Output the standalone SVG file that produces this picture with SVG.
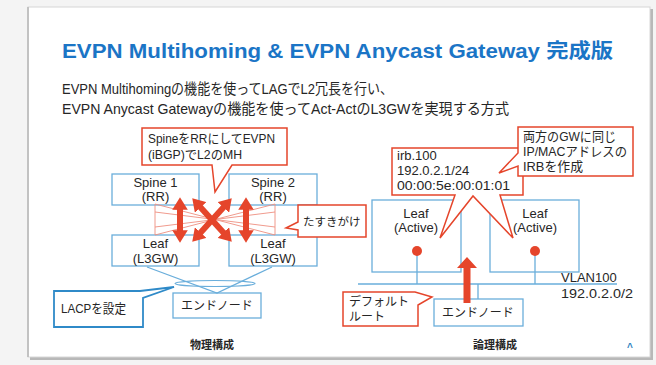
<svg xmlns="http://www.w3.org/2000/svg" width="656" height="365" viewBox="0 0 656 365">
<defs>
<style>
.t{font-family:"Liberation Sans","Noto Sans CJK JP",sans-serif;fill:#262626}
.s13{font-size:13px}
.s12{font-size:12px}
.mid{text-anchor:middle}
.box{fill:#fff;stroke:#6aaedb;stroke-width:1.3}
.call{fill:#fff;stroke:#e5452b;stroke-width:1.5}
.thin{stroke:#ee8f80;stroke-width:0.9;fill:none}
.ln{stroke:#6aaedb;stroke-width:1.3;fill:none}
.fat{stroke:#e5452b;stroke-width:6;fill:none}
.cap{font-size:11px;font-weight:bold;text-anchor:middle}
</style>
<marker id="ah" viewBox="0 0 8 10" refX="3" refY="5" markerWidth="2.1" markerHeight="2.6" orient="auto-start-reverse" markerUnits="strokeWidth"><path d="M0,0 L8,5 L0,10 Z" fill="#e5452b"/></marker>
<clipPath id="clipR"><rect x="0" y="0" width="633" height="365"/></clipPath>
</defs>

<rect width="656" height="365" fill="#f4f4f4"/>
<rect x="30" y="9" width="623" height="351" fill="#b8b8b8"/>
<rect x="28" y="7" width="622" height="350" fill="#fff" stroke="#d6d6d6" stroke-width="1"/>
<line x1="28" y1="7" x2="28" y2="357" stroke="#c2c2c2" stroke-width="2"/>

<g id="title">
<text class="t" x="62" y="58" font-size="20" font-weight="bold" style="fill:#1b75c6" textLength="551" lengthAdjust="spacingAndGlyphs">EVPN Multihoming &amp; EVPN Anycast Gateway 完成版</text>
<text class="t" x="62" y="94" font-size="14.5" textLength="331" lengthAdjust="spacingAndGlyphs">EVPN Multihomingの機能を使ってLAGでL2冗長を行い、</text>
<text class="t" x="62" y="114" font-size="14.5" textLength="447" lengthAdjust="spacingAndGlyphs">EVPN Anycast Gatewayの機能を使ってAct-ActのL3GWを実現する方式</text>
</g>

<!-- physical -->
<g id="spine1"><rect class="box" x="112" y="174" width="87" height="31"/>
<text class="t s13 mid" x="155.5" y="187">Spine 1</text><text class="t s13 mid" x="155.5" y="201">(RR)</text></g>
<g id="spine2"><rect class="box" x="229" y="174" width="88" height="31"/>
<text class="t s13 mid" x="273" y="187">Spine 2</text><text class="t s13 mid" x="273" y="201">(RR)</text></g>
<g id="leaf1"><rect class="box" x="112" y="235" width="87" height="31"/>
<text class="t s13 mid" x="155.5" y="248">Leaf</text><text class="t s13 mid" x="155.5" y="263">(L3GW)</text></g>
<g id="leaf2"><rect class="box" x="229" y="235" width="88" height="31"/>
<text class="t s13 mid" x="273" y="248">Leaf</text><text class="t s13 mid" x="273" y="263">(L3GW)</text></g>
<g id="endnode1"><rect class="box" x="173" y="293" width="88" height="25"/>
<text class="t s12 mid" x="217" y="310">エンドノード</text></g>

<g id="connectors-physical">
<path class="thin" d="M155,204 V235 M275,204 V235 M155,204 L275,235 M155,235 L275,204 M155,212 L275,227 M155,227 L275,212"/>
<line class="fat" x1="180" y1="205" x2="180" y2="235" marker-start="url(#ah)" marker-end="url(#ah)"/>
<line class="fat" x1="246" y1="205" x2="246" y2="235" marker-start="url(#ah)" marker-end="url(#ah)"/>
<line class="fat" x1="197.5" y1="204" x2="226.5" y2="236" marker-start="url(#ah)" marker-end="url(#ah)"/>
<line class="fat" x1="226.5" y1="204" x2="197.5" y2="236" marker-start="url(#ah)" marker-end="url(#ah)"/>
<path class="ln" d="M147,267 L217,293 L272,267"/>
<ellipse cx="215" cy="283.5" rx="40" ry="3" fill="none" stroke="#6aaedb" stroke-width="1.2"/>
</g>

<g id="callout-rr">
<path class="call" d="M142,128 H287 V165 H232 L215,192 L212,165 H142 Z"/>
<text class="t s13" x="148" y="143" textLength="127" lengthAdjust="spacingAndGlyphs">SpineをRRにしてEVPN</text>
<text class="t s13" x="148" y="159" textLength="94" lengthAdjust="spacingAndGlyphs">(iBGP)でL2のMH</text>
</g>
<g id="callout-tasuki">
<path class="call" d="M298,205 H366 V237 H298 V230 L286,228 L298,222 Z"/>
<text class="t" x="303" y="226" font-size="11.5">たすきがけ</text>
</g>
<g id="callout-lacp">
<path d="M54,291 H140 L174,287 L143,298 V327 H54 Z" fill="#fff" stroke="#2f8ac8" stroke-width="1.8"/>
<text class="t s13" x="61" y="313" textLength="65" lengthAdjust="spacingAndGlyphs">LACPを設定</text>
</g>
<text class="t cap" x="212" y="349">物理構成</text>

<!-- logical -->
<g id="leafA1"><rect class="box" x="372" y="200" width="89" height="72"/>
<text class="t s13 mid" x="416" y="218">Leaf</text><text class="t s13 mid" x="416" y="232">(Active)</text></g>
<g id="leafA2"><rect class="box" x="490" y="200" width="89" height="72"/>
<text class="t s13 mid" x="535" y="218">Leaf</text><text class="t s13 mid" x="535" y="232">(Active)</text></g>
<g id="endnode2"><rect class="box" x="434" y="299" width="89" height="27"/>
<text class="t s12 mid" x="478" y="317">エンドノード</text></g>

<g id="connectors-logical">
<path class="ln" d="M358,284 H617 M417,251 V284 M535,251 V284 M478,284 V299"/>
<circle cx="417" cy="251" r="5" fill="#e5452b"/>
<circle cx="535" cy="251" r="5" fill="#e5452b"/>
<path d="M463.5,303 V268 H457 L467,257 L477,268 H470.5 V303 Z" fill="#e5452b"/>
</g>

<g id="vlan" clip-path="url(#clipR)">
<text class="t s13" x="561" y="282">VLAN100</text>
<text class="t s13" x="561" y="298" textLength="80" lengthAdjust="spacingAndGlyphs">192.0.2.0/24</text>
</g>

<g id="callout-irb">
<path class="call" d="M392,148 H523 V195 H500 L513,238 L473,196 L440,238 L455,195 H392 Z"/>
<text class="t s13" x="397" y="160">irb.100</text>
<text class="t s13" x="397" y="175">192.0.2.1/24</text>
<text class="t s13" x="397" y="190" textLength="113" lengthAdjust="spacingAndGlyphs">00:00:5e:00:01:01</text>
</g>
<g id="callout-gw">
<path class="call" d="M518,127 H633 V176 H518 V166 L499,173 L518,153 Z"/>
<text class="t s13" x="523" y="141" textLength="93" lengthAdjust="spacingAndGlyphs">両方のGWに同じ</text>
<text class="t s13" x="523" y="156" textLength="104" lengthAdjust="spacingAndGlyphs">IP/MACアドレスの</text>
<text class="t s13" x="523" y="171" textLength="60" lengthAdjust="spacingAndGlyphs">IRBを作成</text>
</g>
<g id="callout-default">
<path class="call" d="M343,292 H415 L432,297 L418,305 V326 H343 Z"/>
<text class="t s12" x="349" y="306">デフォルト</text>
<text class="t s12" x="349" y="321">ルート</text>
</g>
<text class="t cap" x="495" y="349">論理構成</text>
<text class="t" x="630" y="351" font-size="10" font-weight="bold" text-anchor="middle" style="fill:#2e7fc0">^</text>
</svg>
